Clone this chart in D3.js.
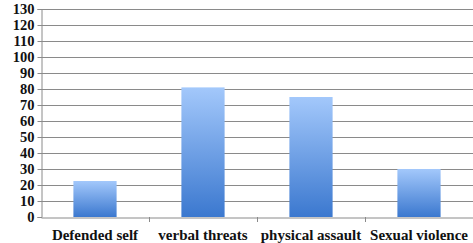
<!DOCTYPE html>
<html>
<head>
<meta charset="utf-8">
<script src="https://cdn.jsdelivr.net/npm/d3@7"></script>
<style>
  body { margin: 0; background: #fff; }
  svg text { font-family: "Liberation Serif", "DejaVu Serif", serif; font-weight: bold; fill: #111; }
</style>
</head>
<body>
<svg id="chart"></svg>
<script>
// Reported incidents by category
const categories = ["Defended self", "verbal threats", "physical assault", "Sexual violence"];
const counts = [22.5, 81, 75, 30];
const yTicks = [0, 10, 20, 30, 40, 50, 60, 70, 80, 90, 100, 110, 120, 130];

const W = 473, H = 243;
const m = { top: 9, right: 0, bottom: 26, left: 41 };

const svg = d3.select("#chart").attr("width", W).attr("height", H);

const x = d3.scaleBand().domain(categories).range([m.left, W - m.right]).paddingInner(0.6).paddingOuter(0.3);
const y = d3.scaleLinear().domain([0, 130]).range([H - m.bottom, m.top]);

const defs = svg.append("defs");
const grad = defs.append("linearGradient").attr("id", "barGrad")
    .attr("x1", 0).attr("y1", 0).attr("x2", 0).attr("y2", 1);
grad.append("stop").attr("offset", "0%").attr("stop-color", "#a3c8fb");
grad.append("stop").attr("offset", "100%").attr("stop-color", "#3b78cf");

// gridlines
svg.append("g").selectAll("line").data(yTicks.slice(1)).enter()
    .append("line")
    .attr("x1", m.left).attr("x2", W)
    .attr("y1", d => Math.round(y(d)) + 0.5).attr("y2", d => Math.round(y(d)) + 0.5)
    .attr("stroke", "#8a8a8a").attr("stroke-width", 1);

// y axis
const yAxis = svg.append("g").attr("transform", `translate(${m.left + 0.5},0)`)
    .call(d3.axisLeft(y).tickValues(yTicks).tickSize(4).tickPadding(3));
yAxis.select(".domain").attr("stroke", "#8a8a8a");
yAxis.selectAll(".tick line").attr("stroke", "#8a8a8a");
yAxis.selectAll("text").style("font-size", "14.5px");

// x axis
const xAxis = svg.append("g").attr("transform", `translate(0,${Math.round(y(0)) + 0.5})`)
    .call(d3.axisBottom(x).tickSize(0).tickPadding(12));
xAxis.select(".domain").attr("stroke", "#8a8a8a");
xAxis.selectAll("text").style("font-size", "15px");

// category separators
const bounds = categories.map((c, i) => m.left + (i + 1) * (W - m.left) / categories.length);
svg.append("g").selectAll("line").data(bounds).enter()
    .append("line")
    .attr("x1", d => Math.round(d) + 0.5).attr("x2", d => Math.round(d) + 0.5)
    .attr("y1", y(0)).attr("y2", y(0) + 5)
    .attr("stroke", "#8a8a8a");

// bars
svg.append("g").selectAll("rect").data(categories).enter()
    .append("rect")
    .attr("x", d => x(d))
    .attr("width", x.bandwidth())
    .attr("y", (d, i) => y(counts[i]))
    .attr("height", (d, i) => y(0) - y(counts[i]))
    .attr("fill", "url(#barGrad)");
</script>
</body>
</html>
